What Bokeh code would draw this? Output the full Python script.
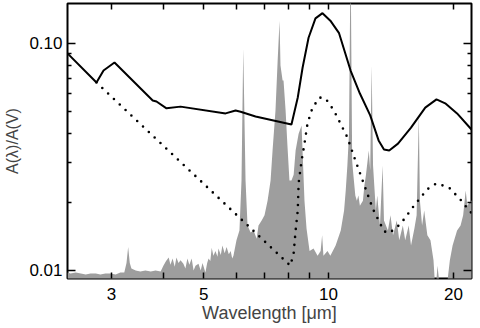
from bokeh.plotting import figure
from bokeh.models import LogAxis, FixedTicker, PrintfTickFormatter
from bokeh.embed import file_html
from bokeh.resources import INLINE

# Gray spectrum (wavelength in micron, scaled flux)
wav_spec = [2.35, 2.39, 2.46, 2.53, 2.60, 2.67, 2.75, 2.82, 2.90, 2.98, 3.07, 3.15, 3.22,
            3.26, 3.29, 3.32, 3.35, 3.43, 3.52, 3.62, 3.73, 3.83, 3.94, 4.00, 4.06, 4.12,
            4.16, 4.21, 4.26, 4.30, 4.35, 4.40, 4.47, 4.52, 4.57, 4.62, 4.68, 4.73, 4.78,
            4.86, 4.92, 4.97, 5.05, 5.10, 5.14, 5.19, 5.23, 5.28, 5.34, 5.40, 5.43, 5.50,
            5.55, 5.62, 5.68, 5.75, 5.81, 5.86, 5.90, 6.00, 6.10, 6.17, 6.23, 6.31, 6.38,
            6.49, 6.60, 6.71, 6.78, 6.90, 7.01, 7.13, 7.25, 7.33, 7.45, 7.54, 7.62, 7.66,
            7.75, 7.79, 7.88, 7.96, 8.05, 8.14, 8.24, 8.33, 8.47, 8.61, 8.75, 8.85, 9.00,
            9.20, 9.41, 9.57, 9.65, 9.72, 9.94, 10.1, 10.4, 10.7, 10.9, 11.0, 11.1, 11.2,
            11.3, 11.4, 11.45, 11.6, 11.7, 11.8, 11.9, 12.1, 12.2, 12.3, 12.5, 12.6, 12.7,
            12.8, 13.0, 13.1, 13.3, 13.5, 13.6, 13.9, 14.1, 14.3, 14.6, 14.8, 15.1, 15.3,
            15.6, 15.8, 16.1, 16.3, 16.5, 16.6, 16.8, 17.0, 17.3, 17.6, 17.9, 18.1, 18.3,
            18.6, 18.9, 19.2, 19.6, 19.9, 20.4, 20.8, 21.1, 21.4, 21.6, 22.0, 22.2]
flux_spec = [0.0098, 0.0097, 0.0098, 0.0097, 0.0096, 0.0097, 0.0097, 0.0096, 0.0097, 0.0097,
             0.0096, 0.0098, 0.0098, 0.0108, 0.0127, 0.0108, 0.0102, 0.0100, 0.0099, 0.0100,
             0.0099, 0.0100, 0.0099, 0.0105, 0.0110, 0.0114, 0.0106, 0.0113, 0.0104, 0.0114,
             0.0108, 0.0111, 0.0107, 0.0102, 0.0113, 0.0106, 0.0113, 0.0100, 0.0105, 0.0107,
             0.0100, 0.0108, 0.0098, 0.0108, 0.0113, 0.0110, 0.0126, 0.0116, 0.0122, 0.0115,
             0.0125, 0.0117, 0.0129, 0.0119, 0.0127, 0.0118, 0.0122, 0.0113, 0.0116, 0.0136,
             0.0150, 0.0249, 0.0951, 0.0249, 0.0158, 0.0147, 0.0150, 0.0138, 0.0158, 0.0166,
             0.0175, 0.0203, 0.0249, 0.0338, 0.0507, 0.0842, 0.126, 0.0800, 0.0687, 0.0687,
             0.0507, 0.0356, 0.0249, 0.0249, 0.0264, 0.0338, 0.0400, 0.0435, 0.0203, 0.0153,
             0.0122, 0.0125, 0.0116, 0.0122, 0.0143, 0.0116, 0.0122, 0.0116, 0.0129, 0.0150,
             0.0184, 0.0225, 0.0290, 0.0400, 0.25, 0.0305, 0.0276, 0.0214, 0.0203, 0.0214,
             0.0193, 0.0203, 0.0237, 0.0262, 0.0338, 0.0276, 0.0800, 0.0290, 0.0184, 0.0214,
             0.0158, 0.0290, 0.0166, 0.0150, 0.0175, 0.0143, 0.0166, 0.0136, 0.0158, 0.0136,
             0.0158, 0.0129, 0.0153, 0.0175, 0.0482, 0.0203, 0.0158, 0.0184, 0.0143, 0.0136,
             0.0111, 0.0080, 0.0105, 0.0080, 0.0080, 0.0080, 0.0111, 0.0129, 0.0150, 0.0158,
             0.0175, 0.0225, 0.0193, 0.0203, 0.0203]

# Solid extinction curve
wav_model = [2.35, 2.76, 2.87, 3.05, 3.77, 3.85, 4.07, 4.40, 5.65, 5.97, 6.14, 6.67, 8.14,
             8.43, 8.66, 8.95, 9.30, 9.67, 10.1, 10.6, 11.3, 11.9, 12.6, 13.2, 13.6, 14.0,
             14.7, 15.8, 17.1, 18.2, 19.1, 20.4, 22.1]
ext_model = [0.0904, 0.0673, 0.0760, 0.0825, 0.0561, 0.0555, 0.0518, 0.0527, 0.0492, 0.0507,
             0.0500, 0.0477, 0.0440, 0.0578, 0.0784, 0.106, 0.129, 0.136, 0.126, 0.111,
             0.0760, 0.0602, 0.0482, 0.0374, 0.0341, 0.0338, 0.0362, 0.0426, 0.0522, 0.0567,
             0.0545, 0.0492, 0.0418]

# Dotted extinction curve
wav_dot = [2.76, 8.09, 8.24, 8.33, 8.43, 8.47, 8.61, 8.75, 8.90, 9.15, 9.52, 9.83, 10.3,
           11.1, 11.6, 12.1, 12.8, 13.6, 14.0, 14.9, 16.0, 17.3, 18.2, 19.5, 20.8, 21.9, 22.2]
ext_dot = [0.0673, 0.0105, 0.0119, 0.0150, 0.0184, 0.0242, 0.0305, 0.0362, 0.0445, 0.0522,
           0.0578, 0.0573, 0.0507, 0.0386, 0.0306, 0.0247, 0.0186, 0.0149, 0.0146, 0.0160,
           0.0191, 0.0228, 0.0242, 0.0232, 0.0205, 0.0182, 0.0178]

x_major = [3, 5, 10, 20]
x_minor = [4, 6, 7, 8, 9]
y_major = [0.01, 0.1]
y_minor = [0.02, 0.03, 0.04, 0.05, 0.06, 0.07, 0.08, 0.09]

FONT = "Liberation Sans"

p = figure(x_axis_type="log", y_axis_type="log",
           x_range=(2.35, 22.1), y_range=(0.00922, 0.150),
           frame_width=404, frame_height=275,
           min_border_left=67, min_border_right=8, min_border_top=3, min_border_bottom=46,
           output_backend="svg", toolbar_location=None)
p.background_fill_color = "white"
p.border_fill_color = "white"
p.grid.visible = False
p.outline_line_color = "black"
p.outline_line_width = 2

p.varea(x=wav_spec, y1=[0.001] * len(wav_spec), y2=flux_spec, fill_color="#9e9e9e")
p.line(wav_model, ext_model, line_color="black", line_width=2)
p.line(wav_dot, ext_dot, line_color="black", line_width=2.6, line_dash="0 8", line_cap="round")


def style_x(ax, show):
    ax.ticker = FixedTicker(ticks=x_major, minor_ticks=x_minor)
    ax.formatter = PrintfTickFormatter(format="%d")
    ax.axis_line_color = None
    ax.major_tick_in = 6
    ax.major_tick_out = 0
    ax.minor_tick_in = 6
    ax.minor_tick_out = 0
    ax.major_tick_line_width = 1.5
    ax.minor_tick_line_width = 1.5
    ax.major_label_text_font = FONT
    ax.major_label_standoff = 9
    ax.major_label_text_font_size = "17px"
    ax.major_label_text_color = "black" if show else None
    if not show:
        ax.major_label_standoff = 0
        ax.major_label_text_font_size = "0px"


def style_y(ax, show):
    ax.ticker = FixedTicker(ticks=y_major, minor_ticks=y_minor)
    ax.formatter = PrintfTickFormatter(format="%.2f")
    ax.axis_line_color = None
    ax.major_tick_in = 8
    ax.major_tick_out = 0
    ax.minor_tick_in = 4
    ax.minor_tick_out = 0
    ax.major_tick_line_width = 1.5
    ax.minor_tick_line_width = 1.5
    ax.major_label_text_font = FONT
    ax.major_label_standoff = 5
    ax.major_label_text_font_size = "17px"
    ax.major_label_text_color = "black" if show else None
    if not show:
        ax.major_label_standoff = 0
        ax.major_label_text_font_size = "0px"


xb = p.xaxis[0]
style_x(xb, True)
xb.axis_label = "Wavelength [μm]"
xb.axis_label_text_font = FONT
xb.axis_label_text_font_size = "18px"
xb.axis_label_text_font_style = "normal"
xb.axis_label_standoff = 0

yl = p.yaxis[0]
style_y(yl, True)
yl.axis_label = "A(λ)/A(V)"
yl.axis_label_text_font = FONT
yl.axis_label_text_font_size = "16px"
yl.axis_label_text_font_style = "normal"
yl.axis_label_standoff = 5

xt = LogAxis()
style_x(xt, False)
p.add_layout(xt, "above")

yr = LogAxis()
style_y(yr, False)
p.add_layout(yr, "right")

open("out.html", "w").write(file_html(p, INLINE))
